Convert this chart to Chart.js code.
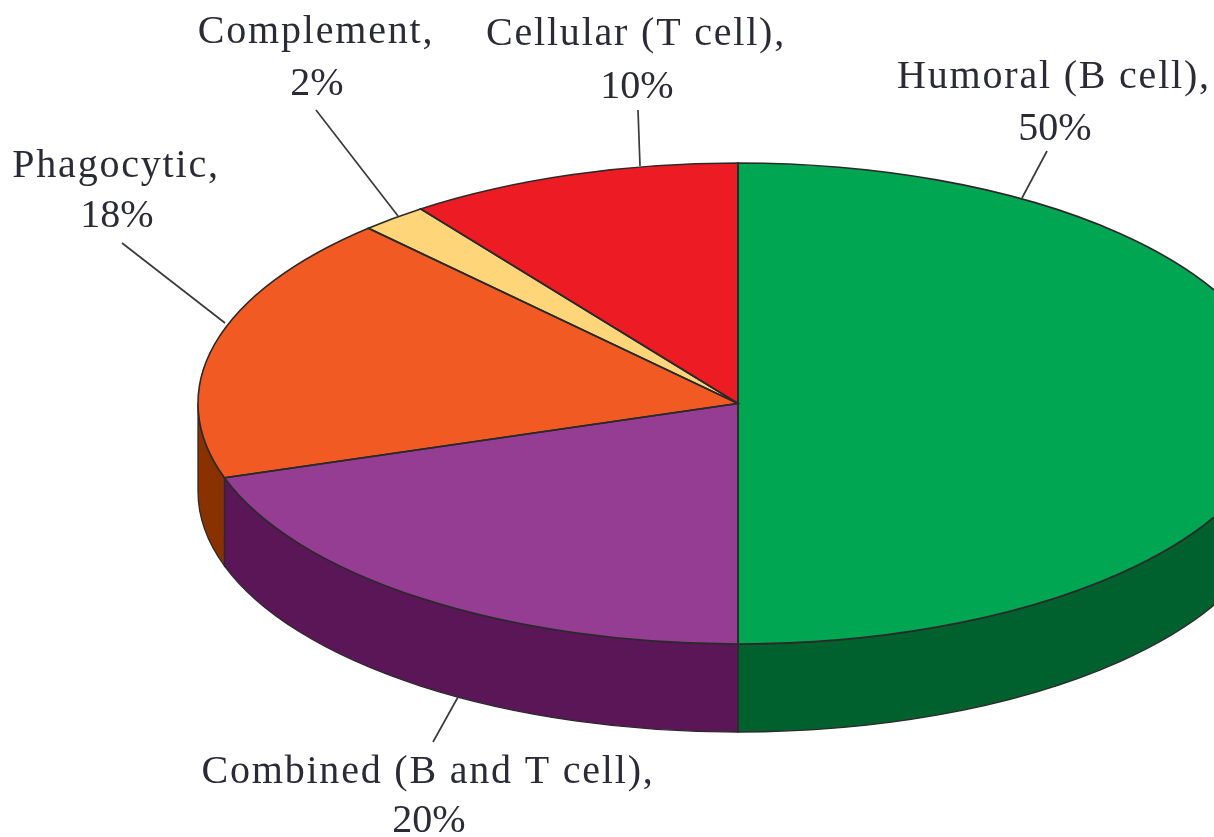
<!DOCTYPE html>
<html><head><meta charset="utf-8">
<style>html,body{margin:0;padding:0;background:#fff;overflow:hidden}
#wrap{position:absolute;left:0;top:0;width:1214px;height:837px}
canvas{filter:blur(0.5px)}</style>
<script src="https://cdn.jsdelivr.net/npm/chart.js@4"></script>
</head><body><div id="wrap"><canvas id="c" width="1214" height="837"></canvas></div>
<script>
const categories = ['Humoral (B cell),','Combined (B and T cell),','Phagocytic,','Complement,','Cellular (T cell),'];
const values = [50,20,18,2,10];
const topColors = ['#00A651','#953C93','#F15A22','#FFD57A','#ED1C24'];
const sideColors = ['#00612E','#5A1657','#8A3100','#C9A050','#A01015'];

// layout of the tilted pie
const PIE = {cx:738, cy:403.5, rx:540, ry:240.5, depth:88};
const LABEL_POS = [[1054,88,140],[428,783,832],[116,177,227],[316,43,95],[636,45,98]];
const LEADERS = [[1047,151,1022,198],[433,742,458,697],[122,243,225,323],[316,110,398,216],[638,110,640,166]];
const LINE = '#2a2a2a', TEXT = '#2b2b38';

function tilt(ctx, arc){
  ctx.translate(PIE.cx, PIE.cy);
  ctx.scale(PIE.rx/arc.outerRadius, PIE.ry/arc.outerRadius);
  ctx.translate(-arc.x, -arc.y);
}
const tiltedPie = {
  id:'tiltedPie',
  beforeDatasetsDraw(chart){
    const ctx = chart.ctx, arcs = chart.getDatasetMeta(0).data;
    // side wall: visible lower half of each slice
    arcs.forEach((a,i)=>{
      const s = a.startAngle, e = a.endAngle;
      for (const k of [0,2]) {
        const s2 = Math.max(s, k*Math.PI), e2 = Math.min(e, (k+1)*Math.PI);
        if (e2 <= s2) continue;
        const px = t => PIE.cx + PIE.rx*Math.cos(t), py = t => PIE.cy + PIE.ry*Math.sin(t);
        ctx.save();
        ctx.beginPath();
        ctx.ellipse(PIE.cx,PIE.cy,PIE.rx,PIE.ry,0,s2,e2);
        ctx.lineTo(px(e2),py(e2)+PIE.depth);
        ctx.ellipse(PIE.cx,PIE.cy+PIE.depth,PIE.rx,PIE.ry,0,e2,s2,true);
        ctx.closePath();
        ctx.fillStyle = sideColors[i]; ctx.fill();
        ctx.strokeStyle = LINE; ctx.lineWidth = 1.3; ctx.stroke();
        ctx.restore();
      }
    });
    ctx.save();
    tilt(ctx, arcs[0]);
  },
  afterDatasetsDraw(chart){
    const ctx = chart.ctx, arcs = chart.getDatasetMeta(0).data;
    ctx.restore();
    // slice outlines with an even line width
    arcs.forEach(a=>{
      ctx.save();
      ctx.beginPath();
      ctx.save(); tilt(ctx,a);
      ctx.moveTo(a.x,a.y);
      ctx.arc(a.x,a.y,a.outerRadius,a.startAngle,a.endAngle);
      ctx.closePath();
      ctx.restore();
      ctx.strokeStyle = LINE; ctx.lineWidth = 1.6; ctx.stroke();
      ctx.restore();
    });
    // leaders
    ctx.save();
    ctx.strokeStyle = '#3a3a3a'; ctx.lineWidth = 1.7;
    LEADERS.forEach(l=>{ctx.beginPath();ctx.moveTo(l[0],l[1]);ctx.lineTo(l[2],l[3]);ctx.stroke();});
    // labels
    ctx.fillStyle = TEXT; ctx.textAlign = 'center'; ctx.textBaseline = 'alphabetic';
    ctx.font = '40px "Liberation Serif"';
    categories.forEach((n,i)=>{
      const p = LABEL_POS[i];
      ctx.letterSpacing = '1.8px';
      ctx.fillText(n,p[0],p[1]);
      ctx.letterSpacing = '0px';
      ctx.fillText(values[i]+'%',p[0]+1,p[2]);
    });
    ctx.restore();
  }
};
new Chart(document.getElementById('c'),{
  type:'pie',
  data:{labels:categories,datasets:[{data:values,backgroundColor:topColors,borderWidth:0,clip:false}]},
  options:{responsive:false,animation:false,events:[],
    plugins:{legend:{display:false},tooltip:{enabled:false},title:{display:false}}},
  plugins:[tiltedPie]
});
</script></body></html>
